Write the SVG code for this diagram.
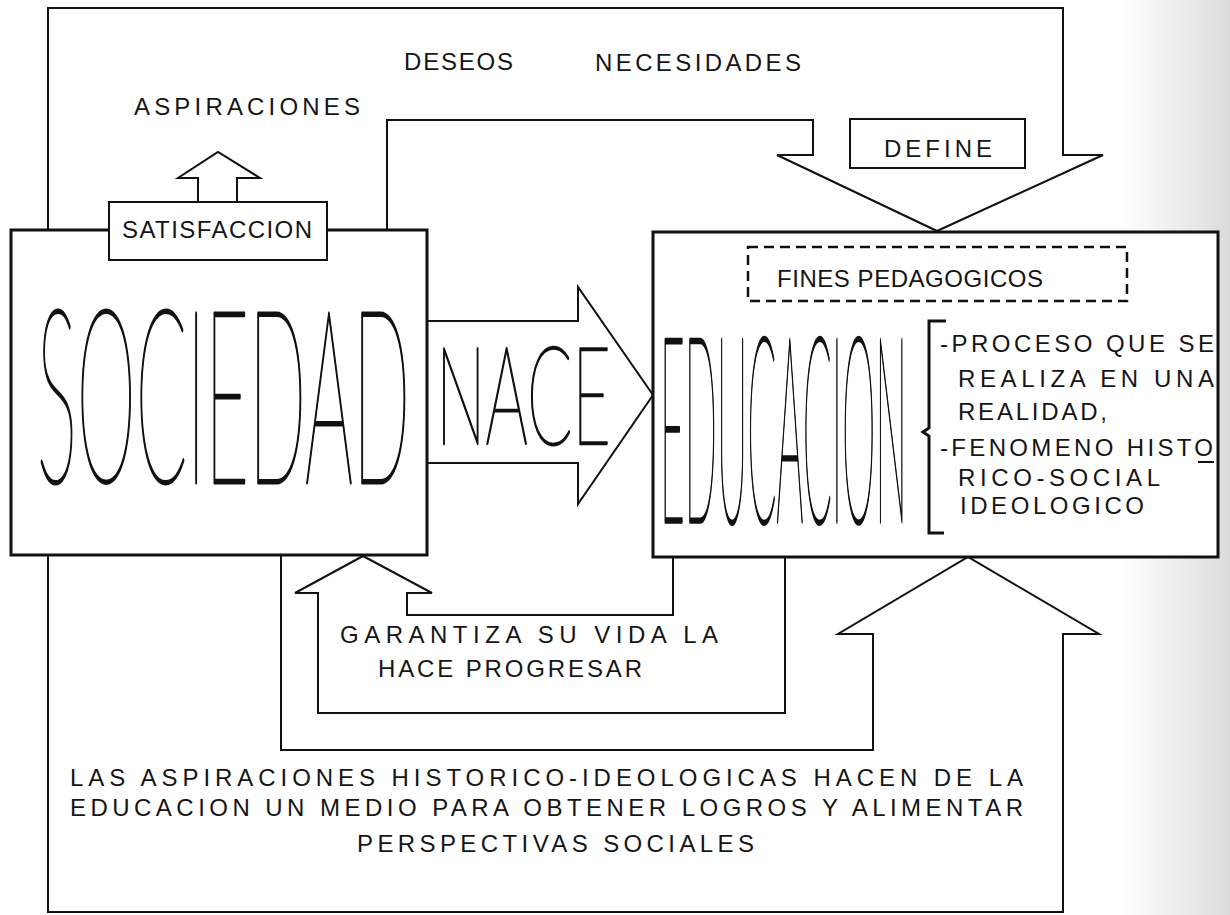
<svg xmlns="http://www.w3.org/2000/svg" width="1230" height="915" viewBox="0 0 1230 915">
<defs>
<linearGradient id="scan" x1="0" x2="1" y1="0" y2="0">
<stop offset="0" stop-color="#d4d4d4" stop-opacity="0"/>
<stop offset="1" stop-color="#cfcfcf" stop-opacity="0.75"/>
</linearGradient>
<style>
.ln{fill:none;stroke:#111;stroke-width:2;stroke-linejoin:miter}
.box{fill:#fff;stroke:#111;stroke-width:3}
.lbl{fill:#fff;stroke:#111;stroke-width:2}
.dash{fill:none;stroke:#111;stroke-width:2.5;stroke-dasharray:10 6}
.t{font-family:"Liberation Sans",Arial,sans-serif;font-size:24px;fill:#151515}
.big{font-family:Lato,Roboto,"DejaVu Sans",sans-serif;font-weight:100;fill:#111;stroke:#111;stroke-linejoin:round}
</style>
</defs>
<rect width="1230" height="915" fill="#fff"/>
<rect x="1120" y="0" width="110" height="915" fill="url(#scan)"/>

<g id="connectors">
<path id="define-arrow-outer" class="ln" d="M48,230 V8 H1063 V155 H1103 L937,231"/>
<path id="define-arrow-inner" class="ln" d="M387,230 V120 H813 V155 H777 L937,231"/>
<path id="nace-arrow" class="ln" d="M427,321 H578 V287 L653,395 L578,504 V463 H427"/>
<path id="aspiraciones-arrow" class="ln" d="M198,202 V178 H178 L218,152 L260,178 H237 V202"/>
<path id="garantiza-arrow" class="ln" d="M673,557 V615 H407 V593 H432 L363,556 L295,593 H318 V713 H785 V557"/>
<path id="historico-arrow" class="ln" d="M281,555 V750 H873 V634 H838 L968,557 L1099,634 H1063 V912 H48 V555"/>
</g>

<g id="sociedad">
<rect class="box" x="11" y="230" width="416" height="325"/>
<text class="big" style="stroke-width:0.9" transform="translate(37,483) scale(1,3.25)" x="0" y="0" font-size="74.6" textLength="373" lengthAdjust="spacingAndGlyphs">SOCIEDAD</text>
</g>

<g id="satisfaccion">
<rect class="lbl" x="109" y="202" width="218" height="58"/>
<text class="t" x="122" y="238" textLength="190" lengthAdjust="spacing">SATISFACCION</text>
</g>

<g id="aspiraciones">
<text class="t" x="134" y="115" textLength="226" lengthAdjust="spacing">ASPIRACIONES</text>
</g>

<g id="deseos">
<text class="t" x="404" y="70" textLength="109" lengthAdjust="spacing">DESEOS</text>
</g>

<g id="necesidades">
<text class="t" x="595" y="71" textLength="206" lengthAdjust="spacing">NECESIDADES</text>
</g>

<g id="define">
<rect class="lbl" x="850" y="119" width="175" height="49"/>
<text class="t" x="884" y="157" textLength="108" lengthAdjust="spacing">DEFINE</text>
</g>

<g id="nace">
<text class="big" style="stroke-width:1.2" transform="translate(436,444) scale(1,2.09)" x="0" y="0" font-size="65.5" textLength="175" lengthAdjust="spacingAndGlyphs">NACE</text>
</g>

<g id="educacion">
<rect class="box" x="653" y="232" width="565" height="325"/>
<text class="big" style="stroke-width:0.6" transform="translate(660,522) scale(1,6.2)" x="0" y="0" font-size="42" textLength="247" lengthAdjust="spacingAndGlyphs">EDUCACION</text>
<path class="ln" style="stroke-width:3" d="M946,321 H929 V428 L923,432 L929,436 V533 H944"/>
<text class="t" x="940" y="352" textLength="274" lengthAdjust="spacing">-PROCESO QUE SE</text>
<text class="t" x="958" y="387" textLength="256" lengthAdjust="spacing">REALIZA EN UNA</text>
<text class="t" x="958" y="420" textLength="149" lengthAdjust="spacing">REALIDAD,</text>
<text class="t" x="940" y="456" textLength="273" lengthAdjust="spacing">-FENOMENO HISTO</text>
<line class="ln" x1="1198" y1="462" x2="1214" y2="462"/>
<text class="t" x="958" y="486" textLength="202" lengthAdjust="spacing">RICO-SOCIAL</text>
<text class="t" x="960" y="514" textLength="184" lengthAdjust="spacing">IDEOLOGICO</text>
</g>

<g id="fines-pedagogicos">
<rect class="dash" x="748" y="247" width="379" height="54"/>
<text class="t" x="777" y="287" textLength="266" lengthAdjust="spacing">FINES PEDAGOGICOS</text>
</g>

<g id="garantiza">
<text class="t" x="340" y="643" textLength="378" lengthAdjust="spacing">GARANTIZA SU VIDA LA</text>
<text class="t" x="378" y="677" textLength="264" lengthAdjust="spacing">HACE PROGRESAR</text>
</g>

<g id="aspiraciones-historicas">
<text class="t" x="70" y="786" textLength="953" lengthAdjust="spacing">LAS ASPIRACIONES HISTORICO-IDEOLOGICAS HACEN DE LA</text>
<text class="t" x="70" y="816" textLength="953" lengthAdjust="spacing">EDUCACION UN MEDIO PARA OBTENER LOGROS Y ALIMENTAR</text>
<text class="t" x="357" y="852" textLength="397" lengthAdjust="spacing">PERSPECTIVAS SOCIALES</text>
</g>
</svg>
